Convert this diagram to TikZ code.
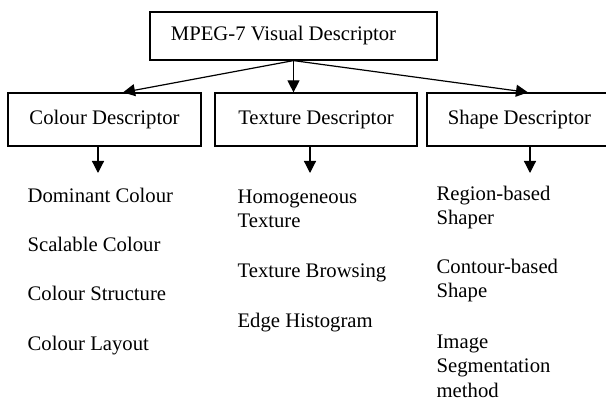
\documentclass[tikz,border=0pt]{standalone}
\usepackage{fontspec}
\setmainfont{Liberation Serif}
\usetikzlibrary{arrows.meta}

\begin{document}
\begin{tikzpicture}[x=1pt, y=-1pt, font=\fontsize{20.7}{24.5}\selectfont, line width=1.2pt]
\tikzstyle{box}=[draw, minimum height=53pt, inner sep=0pt]
\tikzstyle{item}=[anchor=base west, align=left, inner sep=0pt]
\tikzstyle{arr}=[-{Triangle[length=12pt, width=12pt]}]
\clip (0,0) rectangle (606,401);

\node[draw, minimum width=287pt, minimum height=48pt, inner sep=0pt] (visual) at (293.5,36) {MPEG-7 Visual Descriptor\hspace*{20pt}};
\node[box, minimum width=193pt] (colour) at (104.5,119.5) {Colour Descriptor};
\node[box, minimum width=202pt] (texture) at (316,119.5) {Texture Descriptor};
\node[box, minimum width=185pt] (shape) at (519.5,119.5) {Shape Descriptor};

% lists, multi-line items anchored at their last line
\node[item] (dom) at (27,203) {Dominant Colour};
\node[item] (scal) at (27,252) {Scalable Colour};
\node[item] (cstr) at (27,301) {Colour Structure};
\node[item] (clay) at (27,350) {Colour Layout};
\node[item] (homo) at (237,228) {Homogeneous\\Texture};
\node[item] (brow) at (237,278) {Texture Browsing};
\node[item] (hist) at (237,327) {Edge Histogram};
\node[item] (reg) at (436,225) {Region-based\\Shaper};
\node[item] (cont) at (436,298) {Contour-based\\Shape};
\node[item] (seg) at (436,397) {Image\\Segmentation\\method};

\coordinate (ctip) at (98,173);
\coordinate (ttip) at (310,173);
\coordinate (stip) at (530,173);

\path[arr]
(visual.south) edge ([xshift=18.5pt]colour.north)
    edge (texture.north -| visual.south)
    edge ([xshift=8.5pt]shape.north)
(colour.south -| ctip) edge (ctip)
(texture.south -| ttip) edge (ttip)
(shape.south -| stip) edge (stip);
\end{tikzpicture}
\end{document}
